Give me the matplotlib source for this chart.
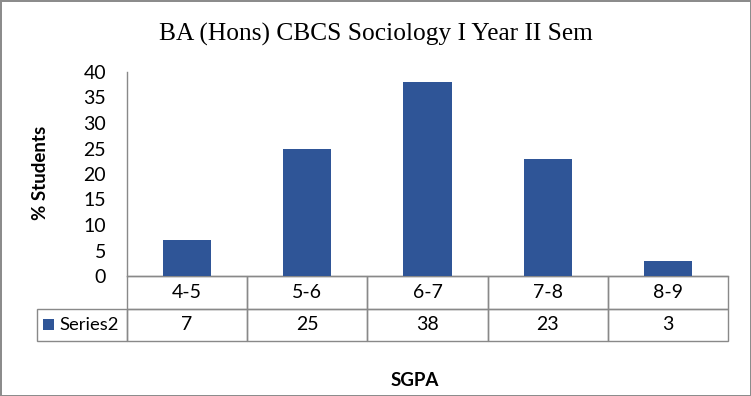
import matplotlib
matplotlib.use('Agg')
import matplotlib.pyplot as plt
from matplotlib.patches import Rectangle
from matplotlib.transforms import blended_transform_factory

categories = ['4-5', '5-6', '6-7', '7-8', '8-9']
values = [7, 25, 38, 23, 3]
series_name = 'Series2'
title = 'BA (Hons) CBCS Sociology I Year II Sem'

bar_color = '#2F5597'
grid_color = '#898989'

W, H = 751, 396
fig = plt.figure(figsize=(W / 100, H / 100), dpi=100)
fig.patch.set_edgecolor('#8c8c8c')
fig.patch.set_linewidth(2)

# axes box in pixels: x 127..728, y 72..276
ax = fig.add_axes([127 / W, 1 - 276 / H, (728 - 127) / W, (276 - 72) / H])
x = list(range(len(categories)))
ax.bar(x, values, width=0.4, color=bar_color, zorder=3)
ax.set_xlim(-0.5, len(categories) - 0.5)
ax.set_ylim(0, 40)
ax.set_yticks(range(0, 41, 5))
ax.set_xticks([])
ax.tick_params(axis='y', length=0, pad=15, labelsize=14)
for lab in ax.get_yticklabels():
    lab.set_fontfamily('Lato')
for s in ['top', 'right']:
    ax.spines[s].set_visible(False)
for s in ['left', 'bottom']:
    ax.spines[s].set_color(grid_color)
    ax.spines[s].set_linewidth(1)

# data table under the axes (x in data units, y in axes units)
trans = blended_transform_factory(ax.transData, ax.transAxes)
ax_h = 276 - 72
row_h = 32.5 / ax_h
label_w = 90 / 120.2
cell_kw = dict(transform=trans, clip_on=False, fill=False,
               edgecolor=grid_color, linewidth=1)
for i, (cat, val) in enumerate(zip(categories, values)):
    ax.add_patch(Rectangle((i - 0.5, -row_h), 1, row_h, **cell_kw))
    ax.add_patch(Rectangle((i - 0.5, -2 * row_h), 1, row_h, **cell_kw))
    ax.text(i, -0.5 * row_h, cat, transform=trans, ha='center', va='center',
            fontsize=14, family='Lato')
    ax.text(i, -1.5 * row_h, str(val), transform=trans, ha='center',
            va='center', fontsize=14, family='Lato')
ax.add_patch(Rectangle((-0.5 - label_w, -2 * row_h), label_w, row_h,
                       **cell_kw))
ax.text(-0.5 - label_w + 0.19, -1.5 * row_h, series_name, transform=trans,
        ha='left', va='center', fontsize=13.3, family='Lato')

# legend key in the row label cell
ax.add_patch(Rectangle((-0.5 - label_w + 0.05, -1.5 * row_h - 5.5 / ax_h),
                       11 / 120.2, 11 / ax_h, transform=trans, clip_on=False,
                       facecolor=bar_color, edgecolor='none'))

fig.text(376 / W, 1 - 34 / H, title, ha='center', va='center',
         fontsize=18.3, family='Liberation Serif')
fig.text(41 / W, 1 - 173 / H, '% Students', rotation=90, ha='center',
         va='center', fontsize=13.5, fontweight='bold', family='Lato')
fig.text(415 / W, 1 - 380 / H, 'SGPA', ha='center', va='center',
         fontsize=13.5, fontweight='bold', family='Lato')

fig.savefig('out.png', dpi=100)
